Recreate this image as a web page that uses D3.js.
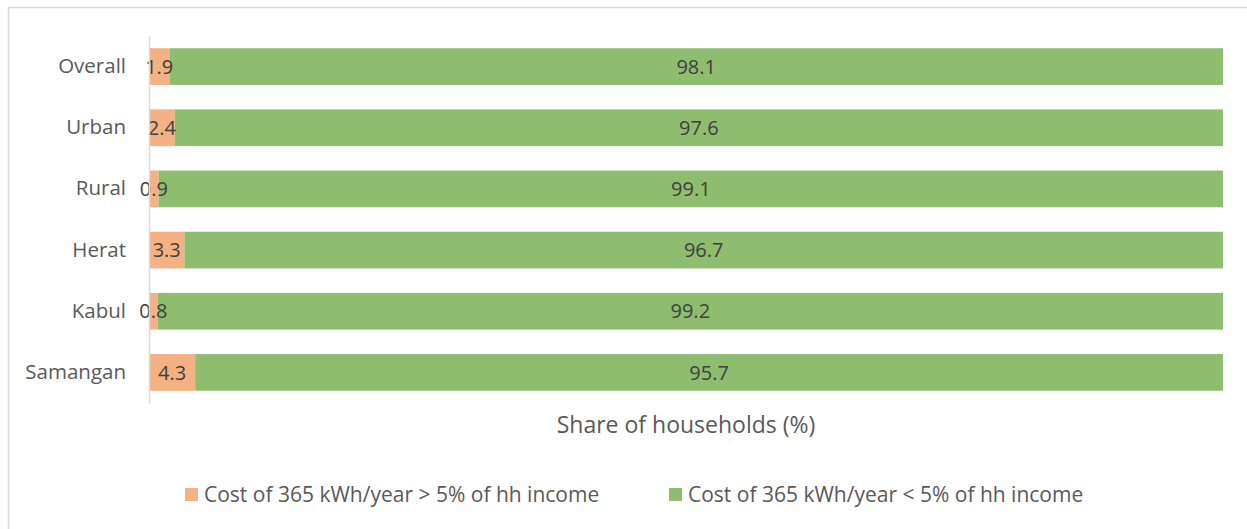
<!DOCTYPE html>
<html>
<head>
<meta charset="utf-8">
<title>Share of households</title>
<script src="https://d3js.org/d3.v7.min.js"></script>
<style>
  body { margin: 0; background: #fff; }
  text { font-family: "Open Sans", "Noto Sans", sans-serif; fill: #595959; }
</style>
</head>
<body>
<div id="chart"></div>
<script>
// data
var categories = ["Overall", "Urban", "Rural", "Herat", "Kabul", "Samangan"];
var above5 = [1.9, 2.4, 0.9, 3.3, 0.8, 4.3];
var below5 = [98.1, 97.6, 99.1, 96.7, 99.2, 95.7];
var seriesNames = ["Cost of 365 kWh/year > 5% of hh income", "Cost of 365 kWh/year < 5% of hh income"];
var colors = ["#F4B183", "#8FBD6F"];

var W = 1247, H = 529;
var svg = d3.select("#chart").append("svg").attr("width", W).attr("height", H);

// chart frame (only left and top edges visible)
svg.append("path").attr("d", "M8.5,529 V7.5 H1247")
  .attr("fill", "none").attr("stroke", "#d9d9d9").attr("stroke-width", 1.5);

var x = d3.scaleLinear().domain([0, 100]).range([149, 1223]);
var y = d3.scaleBand().domain(categories).range([36, 403]).paddingInner(0.4).paddingOuter(0.2);

var segs = [];
categories.forEach(function(c, i) {
  var start = 0;
  [above5[i], below5[i]].forEach(function(v, k) {
    segs.push({ cat: c, k: k, x0: start, x1: start + v, v: v });
    start += v;
  });
});

svg.append("g").selectAll("rect").data(segs).join("rect")
  .attr("x", function(d) { return x(d.x0); })
  .attr("y", function(d) { return y(d.cat); })
  .attr("width", function(d) { return x(d.x1) - x(d.x0); })
  .attr("height", y.bandwidth())
  .attr("fill", function(d) { return colors[d.k]; });

svg.append("g").selectAll("text").data(segs).join("text")
  .attr("x", function(d) { return (x(d.x0) + x(d.x1)) / 2; })
  .attr("y", function(d) { return y(d.cat) + y.bandwidth() / 2; })
  .attr("text-anchor", "middle").attr("dy", "0.36em")
  .style("font-size", "20px")
  .style("fill", "#404040")
  .text(function(d) { return d.v.toFixed(1); });

// category axis
var yAxis = svg.append("g").attr("transform", "translate(149,0)")
  .call(d3.axisLeft(y).tickSize(0).tickPadding(23));
yAxis.select(".domain").attr("stroke", "#d9d9d9").attr("stroke-width", 1.5);
yAxis.selectAll("text").style("font-size", "20.5px").style("fill", "#595959")
  .style("font-family", "'Open Sans', sans-serif");

// axis title
svg.append("text").attr("x", 686).attr("y", 433).attr("text-anchor", "middle")
  .style("font-size", "23px").text("Share of households (%)");

// legend
var legX = [185, 669];
seriesNames.forEach(function(n, i) {
  svg.append("rect").attr("x", legX[i]).attr("y", 488).attr("width", 13).attr("height", 13)
    .attr("fill", colors[i]);
  svg.append("text").attr("x", legX[i] + 19).attr("y", 494.5).attr("dy", "0.36em")
    .style("font-size", "21px").text(n);
});
</script>
</body>
</html>
